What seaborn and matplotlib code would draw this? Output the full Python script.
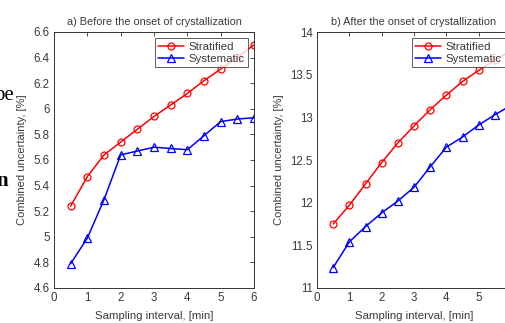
import pandas as pd
import matplotlib
matplotlib.use('Agg')
import matplotlib.pyplot as plt
import seaborn as sns

# sampling intervals, [min]
interval = [0.5, 1, 1.5, 2, 2.5, 3, 3.5, 4, 4.5, 5, 5.5, 6]

# a) before the onset of crystallization
before_stratified = [5.24, 5.47, 5.64, 5.74, 5.84, 5.94, 6.03, 6.12, 6.22, 6.31, 6.40, 6.50]
before_systematic = [4.79, 4.99, 5.29, 5.64, 5.67, 5.70, 5.69, 5.68, 5.79, 5.90, 5.92, 5.93]

# b) after the onset of crystallization
after_stratified = [11.75, 11.97, 12.22, 12.47, 12.70, 12.90, 13.09, 13.26, 13.42, 13.55, 13.67, 13.78]
after_systematic = [11.24, 11.54, 11.72, 11.88, 12.02, 12.18, 12.42, 12.65, 12.77, 12.91, 13.03, 13.14]

before_yticks = [4.6, 4.8, 5, 5.2, 5.4, 5.6, 5.8, 6, 6.2, 6.4, 6.6]
before_ylabels = ['4.6', '4.8', '5', '5.2', '5.4', '5.6', '5.8', '6', '6.2', '6.4', '6.6']
after_yticks = [11, 11.5, 12, 12.5, 13, 13.5, 14]
after_ylabels = ['11', '11.5', '12', '12.5', '13', '13.5', '14']

before = pd.DataFrame({'interval': interval, 'Stratified': before_stratified, 'Systematic': before_systematic})
after = pd.DataFrame({'interval': interval, 'Stratified': after_stratified, 'Systematic': after_systematic})

sns.set_style('white')
plt.rcParams['font.family'] = ['Liberation Sans', 'DejaVu Sans']
txt = '#3a3a3a'

fig = plt.figure(figsize=(5.05, 3.23), dpi=100)
ax1 = fig.add_axes([54 / 505, 35 / 323, 200 / 505, 256 / 323])
ax2 = fig.add_axes([317 / 505, 35 / 323, 194 / 505, 256 / 323])


def draw_panel(ax, df, title, ylim, yticks, ylabels):
    sns.lineplot(x='interval', y='Stratified', data=df, ax=ax, color='red', lw=1.1,
                 marker='o', markersize=5, markerfacecolor='none', markeredgecolor='red',
                 markeredgewidth=0.9, label='Stratified')
    sns.lineplot(x='interval', y='Systematic', data=df, ax=ax, color='blue', lw=1.1,
                 marker='^', markersize=5.5, markerfacecolor='none', markeredgecolor='blue',
                 markeredgewidth=0.9, label='Systematic')
    ax.set_xlim(0, 6)
    ax.set_ylim(*ylim)
    ax.set_xticks(range(7))
    ax.set_yticks(yticks)
    ax.set_yticklabels(ylabels)
    ax.set_title(title, fontsize=7.8, color=txt, pad=5)
    ax.set_xlabel('Sampling interval, [min]', fontsize=8.2, color=txt, labelpad=5)
    ax.set_ylabel('Combined uncertainty, [%]', fontsize=8, color=txt, labelpad=5)
    ax.tick_params(direction='in', length=3, width=0.6, labelsize=8.3, colors='#333333',
                   labelcolor=txt, top=True, right=True, pad=3)
    for s in ax.spines.values():
        s.set_color('#333333')
        s.set_linewidth(0.7)
    leg = ax.legend(loc='upper right', fontsize=8.2, frameon=True, fancybox=False,
                    edgecolor='#333333', borderaxespad=0.55, handlelength=2.3,
                    borderpad=0.3, labelspacing=0.2, handletextpad=0.35)
    leg.get_frame().set_linewidth(0.7)
    for t in leg.get_texts():
        t.set_color(txt)


draw_panel(ax1, before, 'a) Before the onset of crystallization', (4.6, 6.6), before_yticks, before_ylabels)
draw_panel(ax2, after, 'b) After the onset of crystallization', (11, 14), after_yticks, after_ylabels)

# fragments of the surrounding page text at the left edge
fig.text(-0.012, 1 - 100 / 323, 'be', family=['Liberation Serif', 'DejaVu Serif'], fontsize=15, color='black')
fig.text(-0.008, 1 - 186 / 323, 'n', family=['Liberation Serif', 'DejaVu Serif'], fontsize=15,
         fontweight='bold', color='black')

fig.savefig('out.png', dpi=100)
